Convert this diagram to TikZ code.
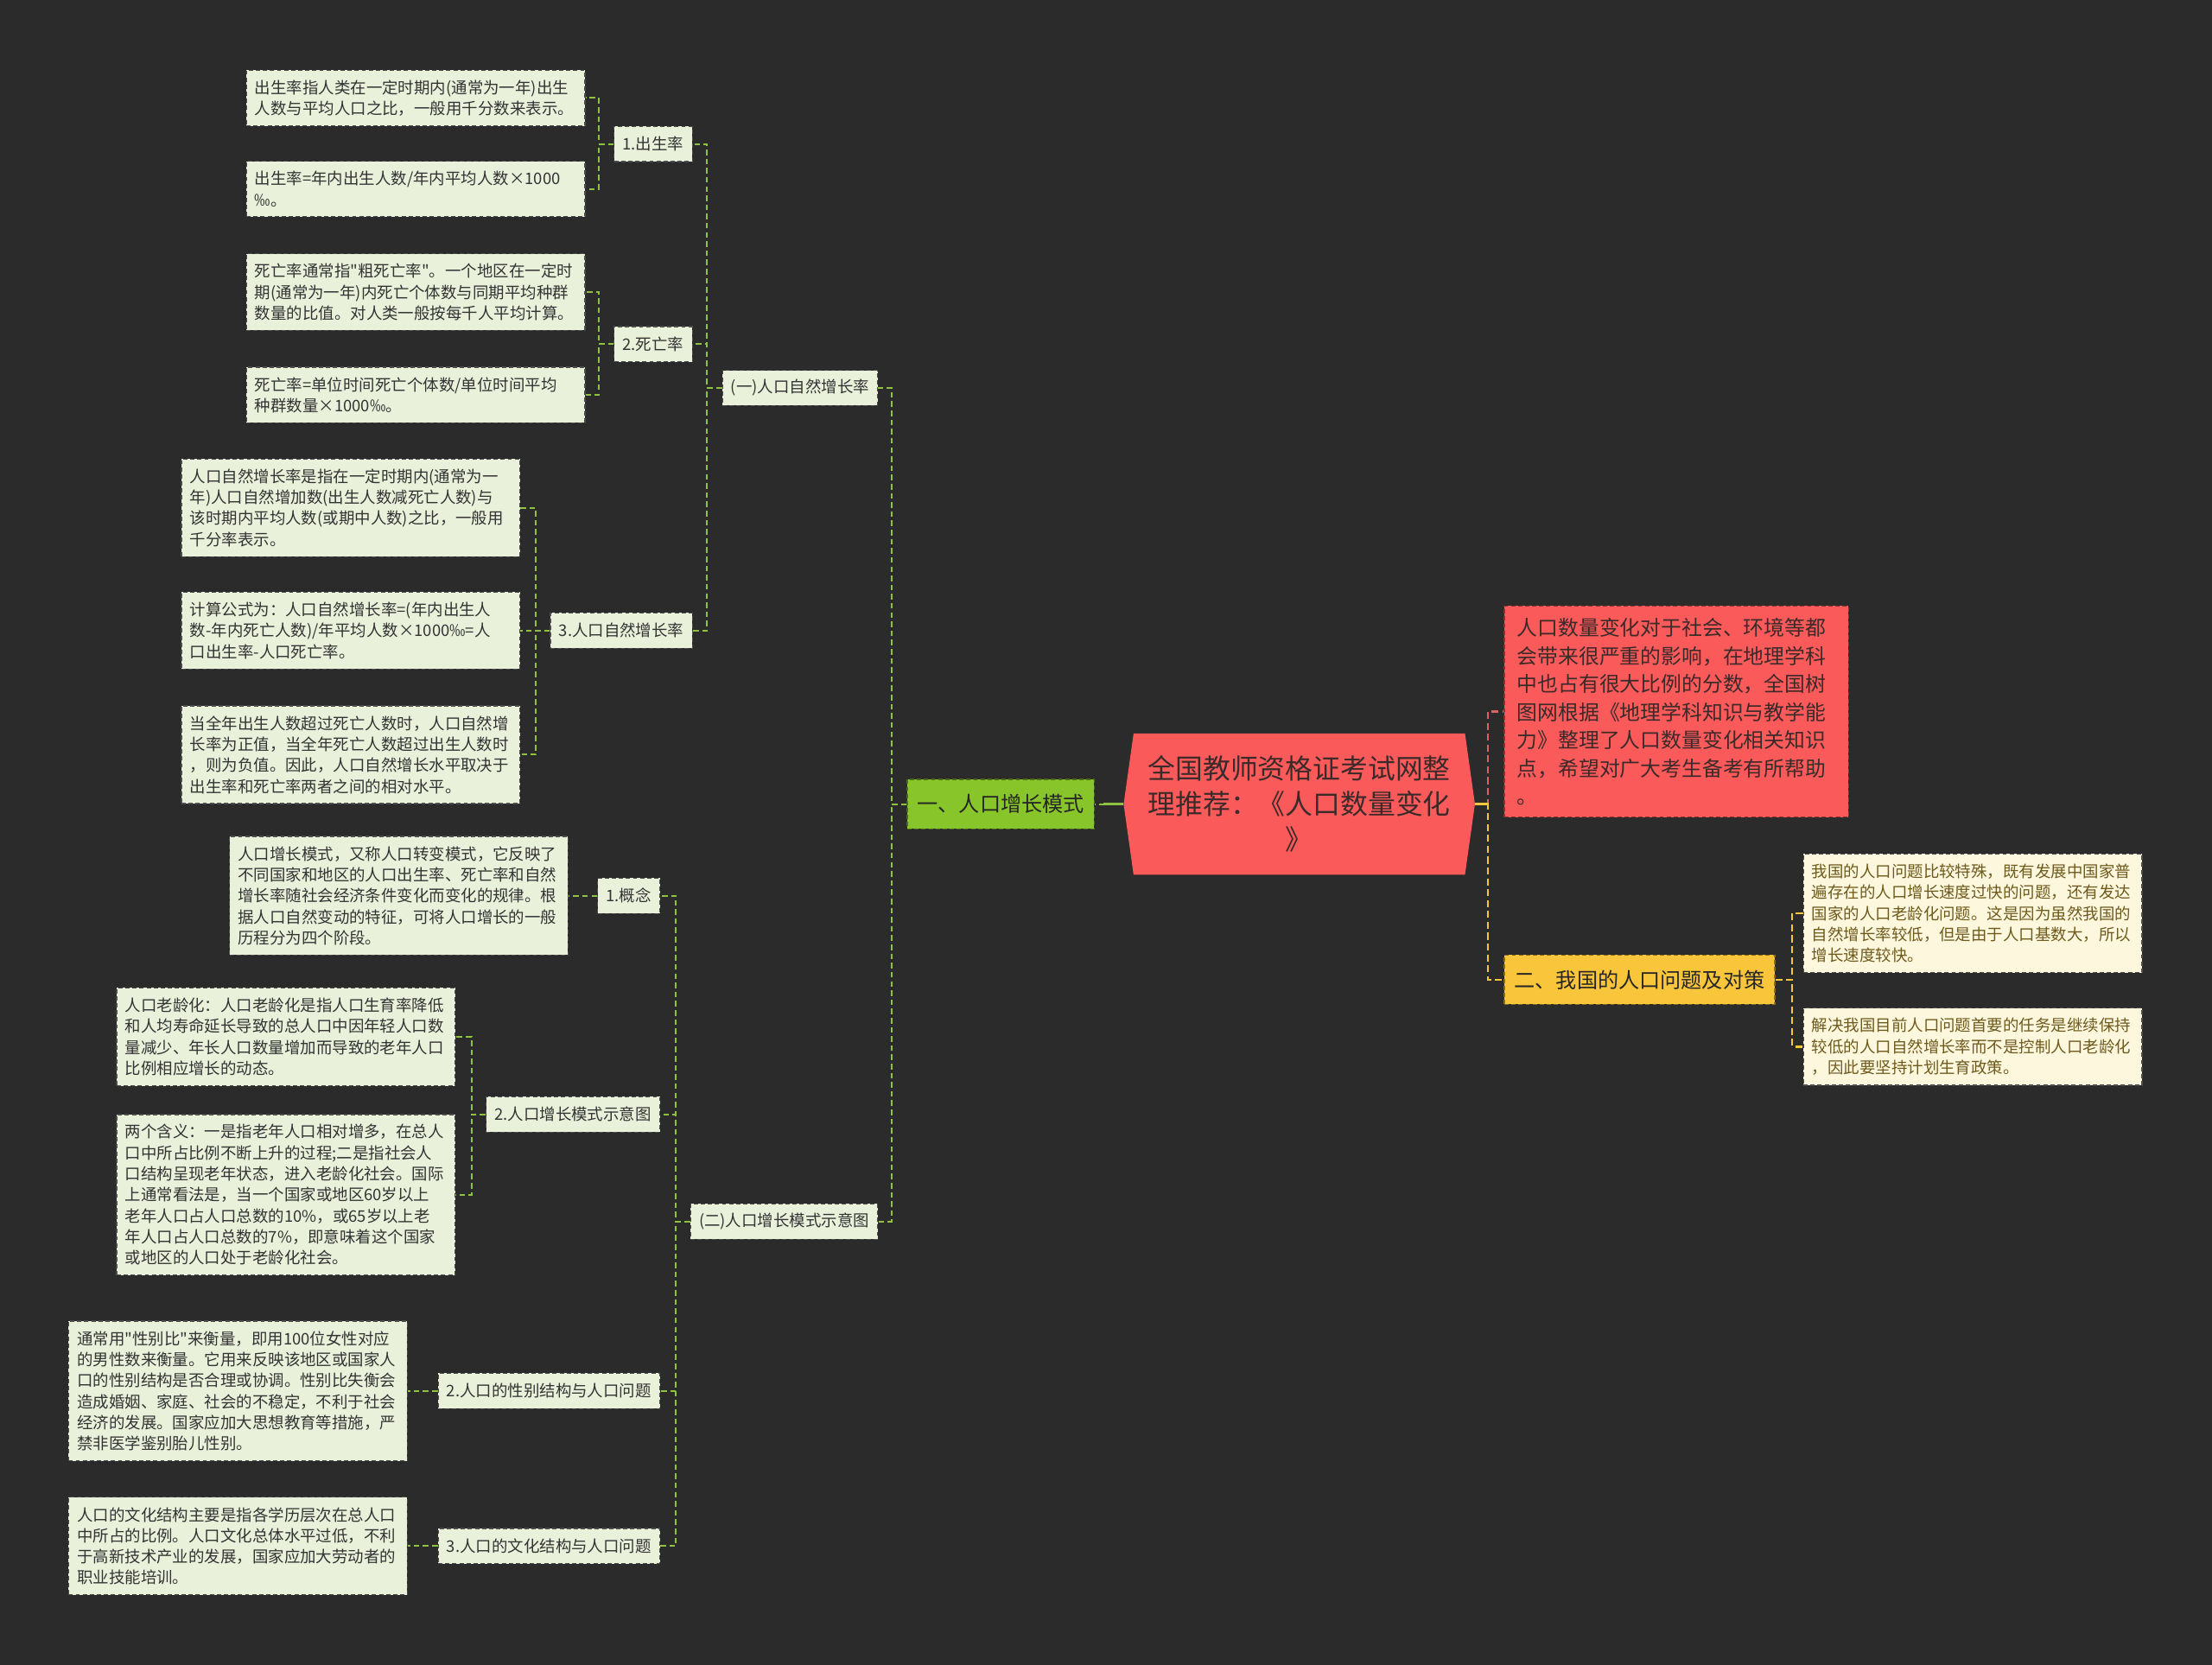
\documentclass[tikz,border=0pt]{standalone}
\usepackage{fontspec}
\setmainfont{Noto Sans CJK SC}
\usetikzlibrary{shapes.symbols}
\definecolor{bgc}{HTML}{2B2B2B}
\definecolor{leafc}{HTML}{EAF1DB}
\definecolor{creamc}{HTML}{FDF7DE}
\definecolor{mainr}{HTML}{FB5A5A}
\definecolor{mainy}{HTML}{F9C53A}
\definecolor{maing}{HTML}{87C52A}
\definecolor{greenlk}{HTML}{8FC23F}
\definecolor{redlk}{HTML}{D9645E}
\definecolor{texty}{HTML}{6E5A1C}
\definecolor{textd}{HTML}{3B2A2A}

\begin{document}
\begin{tikzpicture}[x=1pt, y=-1pt,
	leaf/.style={draw=black!70, dash pattern=on 3pt off 2pt, line width=0.7pt, fill=leafc, text=black!80,
		font=\fontsize{11.3}{14.9}\selectfont, align=left, text width=228pt, inner xsep=6pt, inner ysep=7pt, anchor=east},
	leafy/.style={leaf, fill=creamc, text=texty, anchor=west},
	sub/.style={draw=black!70, dash pattern=on 3pt off 2pt, line width=0.7pt, fill=leafc, text=black!80,
		font=\fontsize{11.3}{13}\selectfont, inner xsep=6pt, minimum height=25pt, anchor=east},
	branch/.style={dash pattern=on 3pt off 2pt, line width=0.8pt, font=\fontsize{14.8}{17}\selectfont,
		inner xsep=7pt, minimum height=35pt},
	root/.style={signal, signal to=west and east, signal pointer angle=164, fill=mainr, text=textd,
		font=\fontsize{19.5}{25}\selectfont, align=center, minimum width=249pt, minimum height=100pt, inner sep=0pt},
	intro/.style={draw=mainr!55!black, dash pattern=on 3pt off 2pt, line width=0.7pt, fill=mainr, text=textd,
		font=\fontsize{14.6}{19.9}\selectfont, align=left, text width=226pt, inner xsep=9pt, inner ysep=8.5pt, anchor=west},
	link/.style={greenlk, line width=1.2pt, dash pattern=on 4pt off 2.5pt},
	linkred/.style={redlk, line width=1.6pt, dash pattern=on 5pt off 2.7pt},
	linkyel/.style={mainy, line width=1.6pt, dash pattern=on 5pt off 2.7pt},
	trunk/.style={line width=2pt}]
	% 背景
	\fill[bgc] (0,0) rectangle (1568,1180);
	\useasboundingbox (0,0) rectangle (1568,1180);

	% 1. 中心主题
	\node[root] (root) at (921,570) {全国教师资格证考试网整\\理推荐：《人口数量变化\\》};

	% 2. 一级分支
	\node[branch, fill=maing, draw=maing!55!black, text=black!85, anchor=east] (b1) at (776,570) {一、人口增长模式};
	\node[branch, fill=mainy, draw=mainy!55!black, text=black!85, anchor=west] (b2) at (1066,694.5) {二、我国的人口问题及对策};
	\node[intro] (intro) at (1066,504.5) {人口数量变化对于社会、环境等都\\会带来很严重的影响，在地理学科\\中也占有很大比例的分数，全国树\\图网根据《地理学科知识与教学能\\力》整理了人口数量变化相关知识\\点，希望对广大考生备考有所帮助\\。};

	% 3. 二级、三级标题
	\node[sub] (s1) at (622.5,275) {(一)人口自然增长率};
	\node[sub] (s2) at (622.5,866) {(二)人口增长模式示意图};
	\node[sub] (t1) at (491,102) {1.出生率};
	\node[sub] (t2) at (491,244) {2.死亡率};
	\node[sub] (t3) at (491,447) {3.人口自然增长率};
	\node[sub] (t4) at (468,635) {1.概念};
	\node[sub] (t5) at (468,790) {2.人口增长模式示意图};
	\node[sub] (t6) at (468,986) {2.人口的性别结构与人口问题};
	\node[sub] (t7) at (468,1096) {3.人口的文化结构与人口问题};

	% 4. 说明文字
	\node[leaf] (a1) at (415,69.5) {出生率指人类在一定时期内(通常为一年)出生\\人数与平均人口之比，一般用千分数来表示。};
	\node[leaf] (a2) at (415,134) {出生率=年内出生人数/年内平均人数×1000\\‰。};
	\node[leaf] (a3) at (415,207) {死亡率通常指\textquotedbl 粗死亡率\textquotedbl 。一个地区在一定时\\期(通常为一年)内死亡个体数与同期平均种群\\数量的比值。对人类一般按每千人平均计算。};
	\node[leaf] (a4) at (415,280) {死亡率=单位时间死亡个体数/单位时间平均\\种群数量×1000‰。};
	\node[leaf] (a5) at (369,360) {人口自然增长率是指在一定时期内(通常为一\\年)人口自然增加数(出生人数减死亡人数)与\\该时期内平均人数(或期中人数)之比，一般用\\千分率表示。};
	\node[leaf] (a6) at (369,447) {计算公式为：人口自然增长率=(年内出生人\\数-年内死亡人数)/年平均人数×1000‰=人\\口出生率-人口死亡率。};
	\node[leaf] (a7) at (369,535) {当全年出生人数超过死亡人数时，人口自然增\\长率为正值，当全年死亡人数超过出生人数时\\，则为负值。因此，人口自然增长水平取决于\\出生率和死亡率两者之间的相对水平。};
	\node[leaf] (c1) at (403,635) {人口增长模式，又称人口转变模式，它反映了\\不同国家和地区的人口出生率、死亡率和自然\\增长率随社会经济条件变化而变化的规律。根\\据人口自然变动的特征，可将人口增长的一般\\历程分为四个阶段。};
	\node[leaf] (c2) at (323,735) {人口老龄化：人口老龄化是指人口生育率降低\\和人均寿命延长导致的总人口中因年轻人口数\\量减少、年长人口数量增加而导致的老年人口\\比例相应增长的动态。};
	\node[leaf] (c3) at (323,847) {两个含义：一是指老年人口相对增多，在总人\\口中所占比例不断上升的过程;二是指社会人\\口结构呈现老年状态，进入老龄化社会。国际\\上通常看法是，当一个国家或地区60岁以上\\老年人口占人口总数的10\%，或65岁以上老\\年人口占人口总数的7\%，即意味着这个国家\\或地区的人口处于老龄化社会。};
	\node[leaf] (d1) at (289,986) {通常用\textquotedbl 性别比\textquotedbl 来衡量，即用100位女性对应\\的男性数来衡量。它用来反映该地区或国家人\\口的性别结构是否合理或协调。性别比失衡会\\造成婚姻、家庭、社会的不稳定，不利于社会\\经济的发展。国家应加大思想教育等措施，严\\禁非医学鉴别胎儿性别。};
	\node[leaf] (d2) at (289,1096) {人口的文化结构主要是指各学历层次在总人口\\中所占的比例。人口文化总体水平过低，不利\\于高新技术产业的发展，国家应加大劳动者的\\职业技能培训。};
	\node[leafy] (e1) at (1278,647.5) {我国的人口问题比较特殊，既有发展中国家普\\遍存在的人口增长速度过快的问题，还有发达\\国家的人口老龄化问题。这是因为虽然我国的\\自然增长率较低，但是由于人口基数大，所以\\增长速度较快。};
	\node[leafy] (e2) at (1278,742) {解决我国目前人口问题首要的任务是继续保持\\较低的人口自然增长率而不是控制人口老龄化\\，因此要坚持计划生育政策。};

	% 5. 连线
	\draw[link] (root.west) -- (b1.east);
	\draw[trunk, greenlk] (root.west) -- ++(-14,0);
	\draw[linkred] (root.east) -- ++(9,0) |- (intro.west);
	\draw[linkyel] (root.east) -- ++(9,0) |- (b2.west);
	\draw[trunk, mainy] (root.east) -- ++(9,0);

	\draw[link] (b1.west) -- ++(-11,0) |- (s1.east);
	\draw[link] (b1.west) -- ++(-11,0) |- (s2.east);
	\draw[link] (s1.west) -- ++(-10.5,0) |- (t1.east);
	\draw[link] (s1.west) -- ++(-10.5,0) |- (t2.east);
	\draw[link] (s1.west) -- ++(-10.5,0) |- (t3.east);
	\draw[link] (s2.west) -- ++(-10,0) |- (t4.east);
	\draw[link] (s2.west) -- ++(-10,0) |- (t5.east);
	\draw[link] (s2.west) -- ++(-10,0) |- (t6.east);
	\draw[link] (s2.west) -- ++(-10,0) |- (t7.east);

	\draw[link] (t1.west) -- ++(-10.5,0) |- (a1.east);
	\draw[link] (t1.west) -- ++(-10.5,0) |- (a2.east);
	\draw[link] (t2.west) -- ++(-10.5,0) |- (a3.east);
	\draw[link] (t2.west) -- ++(-10.5,0) |- (a4.east);
	\draw[link] (t3.west) -- ++(-10,0) |- (a5.east);
	\draw[link] (t3.west) -- ++(-10,0) |- (a6.east);
	\draw[link] (t3.west) -- ++(-10,0) |- (a7.east);
	\draw[link] (t4.west) -- (c1.east);
	\draw[link] (t5.west) -- ++(-10,0) |- (c2.east);
	\draw[link] (t5.west) -- ++(-10,0) |- (c3.east);
	\draw[link] (t6.west) -- (d1.east);
	\draw[link] (t7.west) -- (d2.east);

	\draw[linkyel] (b2.east) -- ++(12,0) |- (e1.west);
	\draw[linkyel] (b2.east) -- ++(12,0) |- (e2.west);
\end{tikzpicture}
\end{document}
